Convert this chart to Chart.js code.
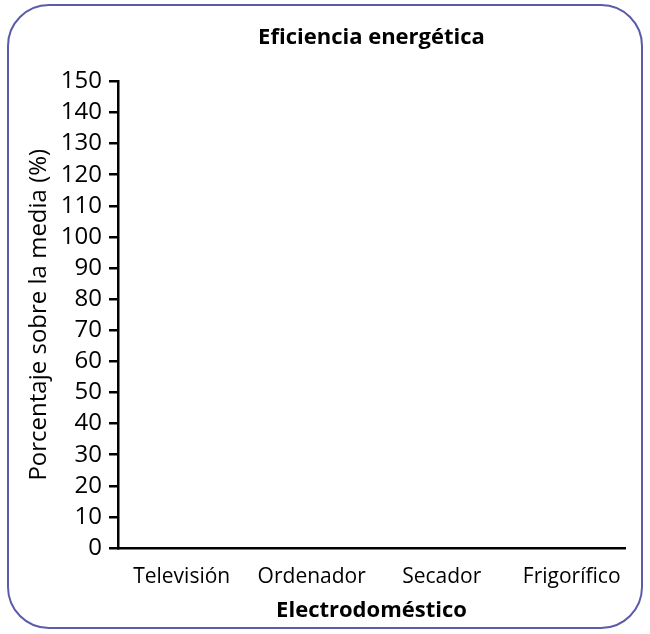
<!DOCTYPE html>
<html>
<head>
<meta charset="utf-8">
<script src="https://cdn.jsdelivr.net/npm/chart.js@4"></script>
<style>
  html, body { margin: 0; padding: 0; background: #fff; }
  #wrap { position: relative; width: 650px; height: 634px; }
  #frame { position: absolute; left: 7px; top: 4px; width: 632px; height: 621px;
           border: 2px solid #5b5ba9; border-radius: 42px; box-sizing: content-box; }
  canvas { position: absolute; left: 0; top: 0; }
</style>
</head>
<body>
<div id="wrap">
  <div id="frame"></div>
  <canvas id="c" width="650" height="634"></canvas>
</div>
<script>
const categories = ["Televisión", "Ordenador", "Secador", "Frigorífico"];
const values = [null, null, null, null];
const yTicks = [0, 10, 20, 30, 40, 50, 60, 70, 80, 90, 100, 110, 120, 130, 140, 150];
const chartTitle = "Eficiencia energética";
const xTitle = "Electrodoméstico";
const yTitle = "Porcentaje sobre la media (%)";

const FONT = "'Open Sans', 'Noto Sans', sans-serif";

new Chart(document.getElementById('c'), {
  type: 'bar',
  data: {
    labels: categories,
    datasets: [{ label: 'Eficiencia', data: values, backgroundColor: '#5b5ba9' }]
  },
  options: {
    responsive: false,
    animation: false,
    layout: { padding: { top: 0, right: 25, bottom: 0, left: 0 } },
    plugins: {
      legend: { display: false },
      tooltip: { enabled: false },
      title: {
        display: true,
        fullSize: false,
        text: chartTitle,
        color: '#000',
        font: { family: FONT, size: 22, weight: 'bold' },
        padding: { top: 25, bottom: 30 }
      }
    },
    scales: {
      x: {
        type: 'category',
        afterFit: (s) => { s.height = 86; },
        afterBuildTicks: (s) => {
          // category spacing slightly wider than the drawn axis (as in the original)
          s._startValue = -0.49;
          s._valueRange = 3.9;
        },
        grid: { display: false, drawTicks: false, drawOnChartArea: false },
        border: { display: true, color: '#000', width: 2.5 },
        ticks: { color: '#000', font: { family: FONT, size: 21 }, padding: 16, maxRotation: 0, autoSkip: false },
        title: { display: true, text: xTitle, color: '#000',
                 font: { family: FONT, size: 22, weight: 'bold' }, padding: { top: 4, bottom: 10 } }
      },
      y: {
        min: 0, max: 150,
        afterFit: (s) => { s.width = 118; },
        afterBuildTicks: (s) => { s.ticks = yTicks.map(v => ({ value: v })); },
        grid: { display: true, drawOnChartArea: false, drawTicks: true, tickLength: 9,
                color: '#000', lineWidth: 2.5 },
        border: { display: true, color: '#000', width: 2.5 },
        ticks: { color: '#000', font: { family: FONT, size: 24 }, padding: 7, autoSkip: false },
        title: { display: true, text: yTitle, color: '#000',
                 font: { family: FONT, size: 24 }, padding: { top: 25, bottom: 0 } }
      }
    }
  }
});
</script>
</body>
</html>
